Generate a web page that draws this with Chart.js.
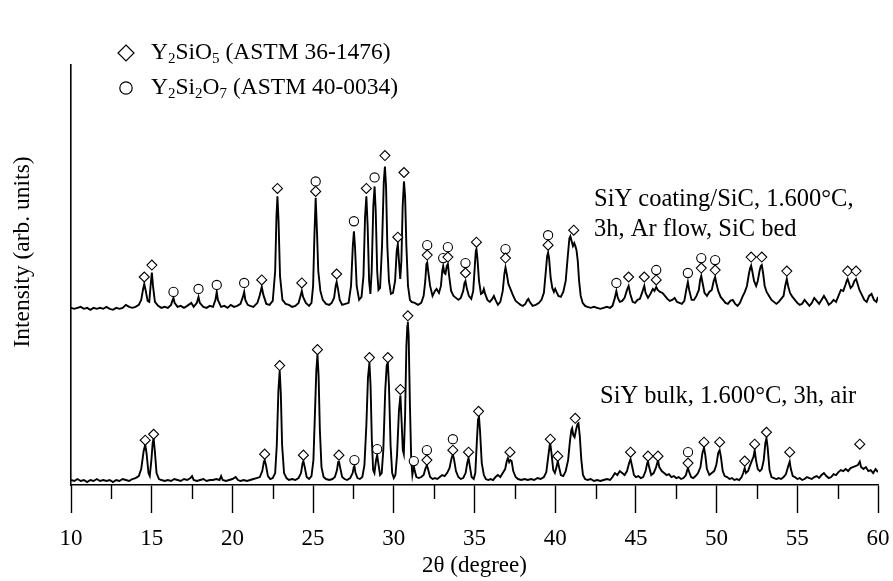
<!DOCTYPE html>
<html>
<head>
<meta charset="utf-8">
<script src="https://cdn.jsdelivr.net/npm/chart.js@4/dist/chart.umd.min.js"></script>
<style>
  html, body { margin: 0; padding: 0; background: #fff; }
  #wrap { width: 893px; height: 581px; }
</style>
</head>
<body>
<div id="wrap"><canvas id="xrd" width="893" height="581"></canvas></div>
<script>
// XRD patterns, 2θ in degrees, intensity in arbitrary units

// upper pattern: SiY coating/SiC, Ar flow
const upperPattern = [
  [10.0,178],[10.2,177],[10.4,178],[10.6,179],[10.8,177],[11.0,178],[11.2,176],[11.4,178],[11.6,177],[11.8,178],
  [12.0,177],[12.2,179],[12.4,177],[12.6,176],[12.8,178],[13.0,177],[13.2,178],[13.4,181],[13.6,179],[13.8,178],
  [14.0,179],[14.2,181],[14.35,186],[14.47,197],[14.54,202],[14.62,196],[14.75,185],[14.85,184],[14.93,200],[15.01,213.5],
  [15.08,200],[15.2,184],[15.4,180],[15.6,178],[15.8,179],[16.0,178],[16.2,181],[16.3,186],[16.35,188],[16.42,183],
  [16.6,179],[16.8,180],[17.0,178],[17.2,180],[17.45,183],[17.6,179],[17.8,183],[17.9,189],[17.98,183],[18.2,179],
  [18.4,178],[18.6,180],[18.8,179],[18.95,186],[19.03,194],[19.1,186],[19.3,179],[19.5,180],[19.7,178],[19.9,181],
  [20.1,179],[20.3,180],[20.5,182],[20.65,189],[20.73,194],[20.8,186],[20.95,181],[21.1,180],[21.3,179],[21.55,183],
  [21.7,191],[21.82,199],[21.92,191],[22.1,182],[22.3,181],[22.5,185],[22.65,215],[22.73,270],[22.79,290],[22.86,265],
  [22.95,210],[23.1,186],[23.3,182],[23.5,181],[23.7,179],[23.9,180],[24.1,183],[24.22,190],[24.3,195],[24.38,189],
  [24.55,183],[24.75,180],[24.9,183],[25.0,200],[25.08,250],[25.16,288.5],[25.24,255],[25.32,215],[25.45,195],[25.6,186],
  [25.8,182],[26.0,181],[26.15,183],[26.3,188],[26.4,200],[26.46,204],[26.53,198],[26.65,186],[26.8,181],[27.0,182],
  [27.2,183],[27.35,200],[27.46,240],[27.53,255],[27.6,238],[27.7,200],[27.85,186],[28.0,189],[28.12,210],[28.22,270],
  [28.3,290],[28.38,260],[28.47,205],[28.55,192],[28.63,215],[28.73,280],[28.81,300],[28.88,275],[28.97,215],[29.05,196],
  [29.15,198],[29.27,240],[29.38,305],[29.45,320],[29.52,300],[29.6,240],[29.7,205],[29.82,192],[29.95,193],[30.08,205],
  [30.18,235],[30.25,242],[30.32,225],[30.4,207],[30.47,225],[30.55,280],[30.63,305],[30.7,290],[30.78,240],[30.88,200],
  [31.0,186],[31.1,184],[31.3,183],[31.5,181],[31.7,183],[31.85,190],[31.95,205],[32.02,222],[32.07,223.5],[32.13,215],
  [32.25,200],[32.4,190],[32.55,195],[32.65,197],[32.8,193],[32.92,200],[33.0,215],[33.06,220],[33.13,213],[33.2,212],
  [33.28,220],[33.35,222],[33.43,210],[33.55,195],[33.7,190],[33.85,188],[34.0,186],[34.15,188],[34.3,195],[34.38,203],
  [34.44,205],[34.52,198],[34.65,190],[34.8,187],[34.92,195],[35.02,220],[35.08,235],[35.12,237],[35.18,228],[35.28,205],
  [35.4,192],[35.5,193],[35.58,197],[35.66,192],[35.8,186],[35.95,184],[36.1,187],[36.2,190],[36.3,186],[36.45,181],
  [36.6,184],[36.75,195],[36.85,212],[36.92,218.5],[37.0,212],[37.1,202],[37.25,196],[37.4,190],[37.55,185],[37.7,183],
  [37.85,181],[38.0,180],[38.15,182],[38.28,186],[38.34,187],[38.42,184],[38.6,180],[38.8,181],[39.0,183],[39.15,186],
  [39.3,193],[39.42,215],[39.5,230],[39.56,233.5],[39.62,228],[39.72,208],[39.82,198],[39.92,194],[40.0,197],[40.08,194],
  [40.2,190],[40.35,189],[40.5,194],[40.65,205],[40.78,230],[40.88,248],[40.94,250],[41.02,245],[41.1,240],[41.18,243],
  [41.25,240],[41.32,236],[41.4,225],[41.48,205],[41.58,190],[41.7,183],[41.85,180],[42.0,179],[42.2,178],[42.4,179],
  [42.6,178],[42.8,177],[43.0,178],[43.2,179],[43.4,178],[43.55,180],[43.68,187],[43.79,195],[43.88,188],[44.0,184],
  [44.15,185],[44.3,188],[44.45,196],[44.55,200],[44.65,192],[44.8,184],[44.95,183],[45.1,186],[45.25,187],[45.4,194],
  [45.52,200],[45.6,193],[45.75,188],[45.9,192],[46.05,197],[46.15,195],[46.26,199],[46.35,196],[46.5,194],[46.65,193],
  [46.8,190],[46.95,187],[47.1,185],[47.25,186],[47.4,188],[47.55,184],[47.7,183],[47.85,182],[48.0,185],[48.12,196],
  [48.22,204],[48.3,196],[48.45,186],[48.6,186],[48.75,190],[48.9,196],[48.98,206],[49.05,210],[49.12,204],[49.25,193],
  [49.4,190],[49.55,194],[49.7,196],[49.82,205],[49.91,209],[49.98,203],[50.1,195],[50.25,189],[50.4,186],[50.55,183],
  [50.7,182],[50.85,185],[51.0,186],[51.15,182],[51.3,180],[51.45,183],[51.6,189],[51.75,194],[51.88,200],[52.0,212],
  [52.08,218],[52.14,220.5],[52.22,214],[52.32,205],[52.45,200],[52.55,205],[52.66,215],[52.74,220],[52.8,221],[52.88,213],
  [52.98,200],[53.1,194],[53.25,190],[53.4,186],[53.55,184],[53.7,182],[53.85,184],[54.0,187],[54.15,190],[54.25,200],
  [54.35,207],[54.43,200],[54.55,193],[54.7,189],[54.85,186],[55.0,183],[55.15,181],[55.3,182],[55.45,186],[55.6,183],
  [55.75,180],[55.9,183],[56.05,188],[56.2,185],[56.35,182],[56.5,186],[56.65,190],[56.8,186],[56.95,181],[57.1,183],
  [57.25,186],[57.4,184],[57.55,190],[57.7,196],[57.85,195],[57.98,201],[58.06,205],[58.12,207],[58.2,203],[58.3,198],
  [58.42,200],[58.54,205],[58.64,207],[58.72,203],[58.85,196],[59.0,191],[59.15,186],[59.3,184],[59.45,190],[59.6,192],
  [59.75,186],[59.9,184],[60.0,189]
];

// lower pattern: SiY bulk, air
const lowerPattern = [
  [10.0,5],[10.2,4],[10.4,6],[10.6,4],[10.8,5],[11.0,3],[11.2,5],[11.4,4],[11.6,6],[11.8,4],
  [12.0,5],[12.2,4],[12.4,5],[12.6,3],[12.8,5],[13.0,4],[13.2,6],[13.4,5],[13.6,4],[13.8,6],
  [14.0,7],[14.2,9],[14.35,16],[14.5,34],[14.6,40.5],[14.68,32],[14.8,12],[14.88,9],[14.98,25],[15.06,42],
  [15.12,47],[15.2,33],[15.3,12],[15.45,6],[15.6,5],[15.8,4],[16.0,5],[16.2,4],[16.4,6],[16.6,5],
  [16.8,4],[17.0,6],[17.2,5],[17.4,7],[17.5,9],[17.6,5],[17.8,4],[18.0,5],[18.2,6],[18.4,4],
  [18.6,5],[18.8,5],[19.0,6],[19.2,5],[19.3,9],[19.4,5],[19.6,4],[19.8,5],[20.0,6],[20.2,8],
  [20.35,5],[20.5,4],[20.7,5],[20.9,4],[21.1,5],[21.3,6],[21.5,7],[21.7,8],[21.85,14],[21.95,23],
  [22.0,25],[22.08,20],[22.2,9],[22.35,6],[22.5,7],[22.65,12],[22.75,40],[22.85,95],[22.93,115],[23.0,92],
  [23.08,40],[23.2,12],[23.35,7],[23.5,5],[23.7,6],[23.9,5],[24.1,7],[24.25,12],[24.35,22],[24.4,24],
  [24.47,19],[24.6,8],[24.75,6],[24.9,9],[25.02,25],[25.12,75],[25.2,115],[25.27,131],[25.34,110],[25.42,55],
  [25.52,18],[25.65,8],[25.8,6],[26.0,5],[26.2,6],[26.35,8],[26.48,15],[26.55,23],[26.6,24],[26.67,18],
  [26.8,8],[26.95,6],[27.1,5],[27.3,7],[27.45,12],[27.52,18],[27.56,19],[27.63,12],[27.75,7],[27.9,6],
  [28.05,8],[28.18,20],[28.3,60],[28.4,108],[28.49,123],[28.56,100],[28.64,45],[28.72,15],[28.8,12],[28.9,25],
  [28.97,30],[29.04,22],[29.15,10],[29.25,12],[29.35,35],[29.47,95],[29.56,120],[29.63,123],[29.7,100],[29.8,40],
  [29.9,12],[30.0,7],[30.1,10],[30.2,30],[30.32,75],[30.41,90],[30.48,65],[30.56,35],[30.62,31],[30.7,70],
  [30.78,140],[30.84,160],[30.87,164],[30.92,150],[31.0,80],[31.08,25],[31.15,10],[31.2,15],[31.24,19],[31.3,14],
  [31.4,8],[31.55,7],[31.7,8],[31.85,10],[31.95,16],[32.05,20],[32.12,16],[32.25,8],[32.4,6],[32.55,7],
  [32.7,6],[32.85,8],[33.0,10],[33.15,9],[33.3,12],[33.45,17],[33.58,27],[33.66,31],[33.74,25],[33.85,14],
  [34.0,8],[34.15,6],[34.3,7],[34.45,12],[34.55,22],[34.63,27.5],[34.7,20],[34.82,8],[34.95,6],[35.05,12],
  [35.15,45],[35.22,66],[35.27,70],[35.34,55],[35.45,22],[35.58,10],[35.7,6],[35.85,5],[36.0,6],[36.15,5],
  [36.3,8],[36.45,10],[36.6,8],[36.75,12],[36.9,16],[37.0,24],[37.07,27],[37.15,23],[37.22,25],[37.3,24],
  [37.4,14],[37.55,8],[37.7,6],[37.9,5],[38.1,6],[38.3,5],[38.5,6],[38.7,5],[38.9,7],[39.1,6],
  [39.3,8],[39.45,13],[39.58,30],[39.66,40],[39.7,41],[39.77,32],[39.88,15],[39.98,12],[40.08,18],[40.16,24],
  [40.24,18],[40.35,10],[40.5,9],[40.65,14],[40.8,25],[40.92,45],[41.0,55],[41.05,57],[41.12,50],[41.2,48],
  [41.3,56],[41.38,61],[41.44,62],[41.52,50],[41.62,25],[41.72,10],[41.85,6],[42.0,5],[42.2,6],[42.4,4],
  [42.6,5],[42.8,4],[43.0,5],[43.2,6],[43.4,5],[43.55,8],[43.7,12],[43.85,10],[44.0,14],[44.15,12],
  [44.3,10],[44.45,14],[44.58,22],[44.67,26],[44.75,20],[44.88,10],[45.0,8],[45.15,9],[45.3,7],[45.45,8],
  [45.6,14],[45.7,22],[45.75,23.5],[45.82,18],[45.95,10],[46.1,12],[46.25,18],[46.37,25],[46.45,18],[46.6,14],
  [46.75,12],[46.9,10],[47.05,11],[47.2,8],[47.35,9],[47.5,7],[47.65,8],[47.8,6],[47.95,7],[48.1,10],
  [48.18,15],[48.23,17],[48.3,13],[48.42,8],[48.55,7],[48.7,9],[48.85,12],[49.0,18],[49.12,32],[49.22,37.5],
  [49.3,30],[49.4,16],[49.55,10],[49.7,12],[49.85,14],[49.98,20],[50.1,32],[50.19,35],[50.27,28],[50.38,14],
  [50.5,9],[50.65,8],[50.8,6],[50.95,7],[51.1,5],[51.25,6],[51.4,5],[51.55,8],[51.65,12],[51.74,17],
  [51.82,12],[51.95,14],[52.08,20],[52.2,25],[52.28,28],[52.36,35],[52.44,25],[52.55,16],[52.68,14],[52.8,16],
  [52.92,25],[53.02,42],[53.09,47],[53.16,38],[53.28,15],[53.4,8],[53.55,7],[53.7,6],[53.85,7],[54.0,6],
  [54.15,8],[54.3,11],[54.42,18],[54.53,23.5],[54.6,16],[54.72,9],[54.85,8],[55.0,6],[55.15,7],[55.3,5],
  [55.45,6],[55.6,8],[55.75,7],[55.9,6],[56.05,8],[56.2,9],[56.35,7],[56.5,10],[56.65,12],[56.8,9],
  [56.95,7],[57.1,8],[57.25,11],[57.4,10],[57.55,13],[57.7,15],[57.85,14],[58.0,16],[58.15,14],[58.3,17],
  [58.45,18],[58.6,19],[58.75,20],[58.87,23.5],[58.95,18],[59.1,16],[59.25,18],[59.4,14],[59.55,15],[59.7,12],
  [59.85,16],[60.0,13]
];

// phase markers [2θ, height of the symbol]
const y2sio5Upper = [
  [14.54,209],[15.01,221],[21.82,206],[22.79,298],[24.3,203],[25.16,295],[26.46,212],[28.3,298],[29.45,331],
  [30.25,249],[30.63,314],[32.07,231],[33.35,229],[34.44,213],[35.12,244],[36.92,228],[39.56,241],[41.15,256],
  [44.55,209],[45.52,209],[46.26,206],[49.05,218],[49.91,216],[52.14,229],[52.8,229],[54.35,215],[58.12,215],[58.64,215]
];
const y2si2o7Upper = [
  [16.35,194],[17.9,197],[19.03,201],[20.73,203],[25.16,305],[27.53,265],[28.81,309],[32.07,241],[33.06,228],
  [33.35,239],[34.44,223],[36.92,237],[39.56,251],[43.79,203],[46.26,216],[48.22,213],[49.05,228],[49.91,226]
];
const y2sio5Lower = [
  [14.6,45],[15.12,51],[22.0,31],[22.93,120],[24.4,30],[25.27,136],[26.6,30],[28.49,128],[29.63,128],[30.41,96],
  [30.87,170],[32.05,25],[33.66,35],[34.63,33],[35.25,74],[37.2,33],[39.7,46],[40.16,29],[41.24,67],[44.67,33],
  [45.75,29],[46.37,29],[48.23,22],[49.22,43],[50.19,43],[51.74,24],[52.36,41],[53.09,53],[54.53,33],[58.87,41]
];
const y2si2o7Lower = [
  [27.56,25],[28.97,36],[31.24,24],[32.05,35],[33.66,46],[48.23,33]
];

const xMajorStep = 5;
const xMinorTicks = [12.5, 17.5, 22.5, 27.5, 32.5, 37.5, 42.5, 47.5, 52.5, 57.5];

const legendRows = [
  { symbol: 'diamond', parts: [['Y',0],['2',1],['SiO',0],['5',1],[' (ASTM 36-1476)',0]] },
  { symbol: 'circle',  parts: [['Y',0],['2',1],['Si',0],['2',1],['O',0],['7',1],[' (ASTM 40-0034)',0]] }
];
const sampleLabels = [
  { lines: ['SiY coating/SiC, 1.600°C,', '3h, Ar flow, SiC bed'], x: 594, y: 200 },
  { lines: ['SiY bulk, 1.600°C, 3h, air'], x: 600, y: 397 }
];
const yTitle = 'Intensity (arb. units)';

const SERIF = '"Liberation Serif", "Times New Roman", serif';
const toXY = arr => arr.map(p => ({ x: p[0], y: p[1] }));

// short minor ticks on the 2θ axis
const minorTickPlugin = {
  id: 'minorTicks',
  afterDraw(chart) {
    const xs = chart.scales.x;
    const ctx = chart.ctx;
    ctx.save();
    ctx.strokeStyle = '#000';
    ctx.lineWidth = 1.4;
    xMinorTicks.forEach(v => {
      const px = Math.round(xs.getPixelForValue(v)) + 0.5;
      ctx.beginPath();
      ctx.moveTo(px, xs.top);
      ctx.lineTo(px, xs.top + 14);
      ctx.stroke();
    });
    ctx.restore();
  }
};

// legend, sample captions and y title
const captionPlugin = {
  id: 'captions',
  afterDraw(chart) {
    const ctx = chart.ctx;
    ctx.save();
    ctx.fillStyle = '#000';
    ctx.strokeStyle = '#000';
    ctx.lineWidth = 1.2;
    ctx.textBaseline = 'middle';

    legendRows.forEach((row, i) => {
      const cy = 53 + i * 35;
      const cx = 126;
      ctx.beginPath();
      if (row.symbol === 'diamond') {
        ctx.moveTo(cx, cy - 8); ctx.lineTo(cx + 8, cy); ctx.lineTo(cx, cy + 8); ctx.lineTo(cx - 8, cy); ctx.closePath();
      } else {
        ctx.arc(cx, cy, 6.2, 0, Math.PI * 2);
      }
      ctx.stroke();
      let x = 151;
      row.parts.forEach(([txt, sub]) => {
        ctx.font = (sub ? '15px ' : '23.5px ') + SERIF;
        ctx.fillText(txt, x, sub ? cy + 6 : cy);
        x += ctx.measureText(txt).width;
      });
    });

    ctx.font = '24.5px ' + SERIF;
    sampleLabels.forEach(lab => {
      lab.lines.forEach((ln, j) => ctx.fillText(ln, lab.x, lab.y + j * 30));
    });

    ctx.font = '23.5px ' + SERIF;
    ctx.translate(23, 252);
    ctx.rotate(-Math.PI / 2);
    ctx.textAlign = 'center';
    ctx.fillText(yTitle, 0, 0);
    ctx.restore();
  }
};

new Chart(document.getElementById('xrd'), {
  data: {
    datasets: [
      { type: 'scatter', data: toXY(y2sio5Upper.concat(y2sio5Lower)), pointStyle: 'rectRot', pointRadius: 5,
        backgroundColor: '#fff', borderColor: '#000', borderWidth: 1.1 },
      { type: 'scatter', data: toXY(y2si2o7Upper.concat(y2si2o7Lower)), pointStyle: 'circle', pointRadius: 4.6,
        backgroundColor: '#fff', borderColor: '#000', borderWidth: 1.1 },
      { type: 'line', data: toXY(upperPattern), borderColor: '#000', borderWidth: 1.9, pointRadius: 0, tension: 0 },
      { type: 'line', data: toXY(lowerPattern), borderColor: '#000', borderWidth: 1.9, pointRadius: 0, tension: 0 }
    ]
  },
  options: {
    responsive: false,
    animation: false,
    devicePixelRatio: 1,
    layout: { padding: { top: 65, right: 15, left: 0, bottom: 4 } },
    plugins: { legend: { display: false }, tooltip: { enabled: false } },
    scales: {
      x: {
        type: 'linear', min: 10, max: 60,
        afterFit: s => { s.height = 92; s.paddingLeft = 0; s.paddingRight = 0; },
        ticks: {
          stepSize: xMajorStep, autoSkip: false, maxRotation: 0, padding: 12, color: '#000',
          font: { family: SERIF, size: 23 }
        },
        grid: { drawOnChartArea: false, drawTicks: true, tickLength: 28, tickColor: '#000', tickWidth: 1.4 },
        border: { display: true, color: '#000', width: 1.6 },
        title: { display: true, text: '2θ (degree)', color: '#000', padding: 0,
          font: { family: SERIF, size: 23, lineHeight: 1 } }
      },
      y: {
        min: 0, max: 422,
        afterFit: s => { s.width = 71; },
        ticks: { display: false },
        grid: { display: false },
        border: { display: true, color: '#000', width: 1.6 }
      }
    }
  },
  plugins: [minorTickPlugin, captionPlugin]
});
</script>
</body>
</html>
